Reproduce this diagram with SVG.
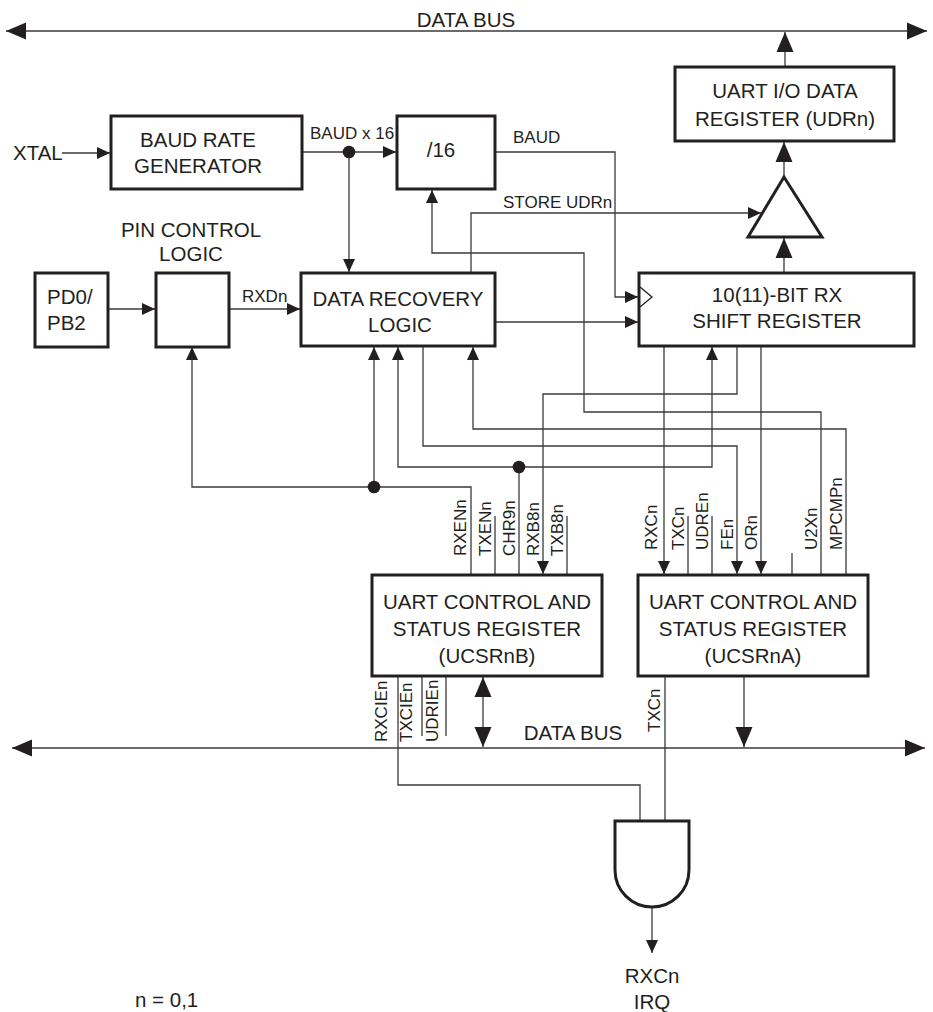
<svg xmlns="http://www.w3.org/2000/svg" width="933" height="1012" viewBox="0 0 933 1012">
<style>
text{font-family:"Liberation Sans",Arial,sans-serif;fill:#231f20}
.b{font-size:20.5px}
.s{font-size:17px}
.m{text-anchor:middle}
.box{fill:#fff;stroke:#231f20;stroke-width:3}
.w{fill:none;stroke:#3a3a3a;stroke-width:1.3}
.e{marker-end:url(#a)}
.E{marker-end:url(#A)}
.dot{fill:#231f20}
</style>
<defs>
<marker id="a" viewBox="-13 -6 14 12" refX="0" refY="0" markerWidth="14" markerHeight="12" orient="auto" markerUnits="userSpaceOnUse"><path d="M0,0 L-13,-6 L-13,6 Z" fill="#231f20"/></marker>
<marker id="A" viewBox="-20 -9 21 18" refX="0" refY="0" markerWidth="21" markerHeight="18" orient="auto-start-reverse" markerUnits="userSpaceOnUse"><path d="M0,0 L-20,-8.5 L-20,8.5 Z" fill="#231f20"/></marker>
</defs>

<g id="connectors">
<!-- buses -->
<path class="w" d="M6,31 H927" marker-start="url(#A)" marker-end="url(#A)"/>
<path class="w" d="M12,748 H925" marker-start="url(#A)" marker-end="url(#A)"/>
<!-- UDR to bus -->
<path class="w E" d="M785,67 V32"/>
<!-- buffer to UDR -->
<path class="w E" d="M784,177 V142"/>
<!-- shift reg to buffer -->
<path class="w E" d="M784,273 V238"/>
<!-- STORE UDRn -->
<path class="w e" d="M471,273 V213 H761"/>
<!-- XTAL -->
<path class="w e" d="M62,153 H110"/>
<!-- BAUD x 16 -->
<path class="w e" d="M302,152 H396"/>
<path class="w e" d="M349,152 V272"/>
<!-- BAUD -->
<path class="w e" d="M495,152 H615 V297 H638"/>
<!-- U2Xn to /16 -->
<path class="w e" d="M821,575 V412 H584 V253 H432 V190"/>
<!-- PD0 to pin control -->
<path class="w e" d="M108,309 H155"/>
<!-- RXDn -->
<path class="w e" d="M229,309 H300"/>
<!-- DRL to shift reg -->
<path class="w e" d="M495,322 H638"/>
<!-- RXENn -->
<path class="w e" d="M471,575 V487 H192 V347"/>
<path class="w e" d="M374,487 V347"/>
<!-- CHR9n -->
<path class="w" d="M519,575 V467"/>
<path class="w e" d="M519,467 H398 V347"/>
<path class="w e" d="M519,467 H712 V347"/>
<!-- DRL to FEn -->
<path class="w e" d="M423,346 V446 H737 V574"/>
<!-- MPCMPn to DRL -->
<path class="w e" d="M846,575 V429 H473 V347"/>
<!-- shift reg to RXB8n -->
<path class="w e" d="M737,346 V394 H543 V574"/>
<!-- RXCn, ORn -->
<path class="w e" d="M664,346 V574"/>
<path class="w e" d="M761,346 V574"/>
<!-- stubs -->
<path class="w" d="M495,516 V575 M567,516 V575 M688,516 V575 M712,516 V575 M792,553 V575"/>
<path class="w" d="M422,676 V736 M446,676 V736"/>
<!-- RXCIEn to AND -->
<path class="w" d="M398,676 V785 H640 V821"/>
<!-- TXCn to AND -->
<path class="w" d="M665,676 V821"/>
<!-- UCSRnB <-> bus -->
<path class="w" d="M483,677 V747" marker-start="url(#A)" marker-end="url(#A)"/>
<!-- UCSRnA to bus -->
<path class="w E" d="M744,676 V747"/>
<!-- AND output -->
<path class="w e" d="M652,907 V953"/>
<circle class="dot" cx="349" cy="152" r="6.3"/>
<circle class="dot" cx="374" cy="487" r="6.3"/>
<circle class="dot" cx="519" cy="467" r="6.3"/>
</g>

<g id="labels">
<text class="b m" x="466" y="27">DATA BUS</text>
<text class="b m" x="573" y="740">DATA BUS</text>
<text class="b" x="13" y="160">XTAL</text>
<text class="s" x="310" y="139">BAUD x 16</text>
<text class="s" x="513" y="143">BAUD</text>
<text class="s" x="503" y="208">STORE UDRn</text>
<text class="s" x="242" y="302">RXDn</text>
<text class="b m" x="191" y="237">PIN CONTROL</text>
<text class="b m" x="191" y="261">LOGIC</text>
<text class="b" x="135" y="1007">n = 0,1</text>
<text class="s" transform="translate(466,556) rotate(-90)">RXENn</text>
<text class="s" transform="translate(491,556) rotate(-90)">TXENn</text>
<text class="s" transform="translate(515,556) rotate(-90)">CHR9n</text>
<text class="s" transform="translate(539,556) rotate(-90)">RXB8n</text>
<text class="s" transform="translate(563,556) rotate(-90)">TXB8n</text>
<text class="s" transform="translate(657,550) rotate(-90)">RXCn</text>
<text class="s" transform="translate(684,550) rotate(-90)">TXCn</text>
<text class="s" transform="translate(708,550) rotate(-90)">UDREn</text>
<text class="s" transform="translate(733,550) rotate(-90)">FEn</text>
<text class="s" transform="translate(757,550) rotate(-90)">ORn</text>
<text class="s" transform="translate(817,550) rotate(-90)">U2Xn</text>
<text class="s" transform="translate(842,550) rotate(-90)">MPCMPn</text>
<text class="s" transform="translate(387,742) rotate(-90)">RXCIEn</text>
<text class="s" transform="translate(412,742) rotate(-90)">TXCIEn</text>
<text class="s" transform="translate(438,742) rotate(-90)">UDRIEn</text>
<text class="s" transform="translate(660,732) rotate(-90)">TXCn</text>
<text class="b m" x="652" y="983">RXCn</text>
<text class="b m" x="652" y="1009">IRQ</text>
</g>

<g id="udr">
<rect class="box" x="675" y="67" width="219" height="74"/>
<text class="b m" x="785" y="98">UART I/O DATA</text>
<text class="b m" x="785" y="126">REGISTER (UDRn)</text>
</g>
<g id="buffer">
<polygon class="box" points="784,177 748,237 822,237"/>
</g>
<g id="brg">
<rect class="box" x="111" y="116" width="191" height="73"/>
<text class="b m" x="198" y="147">BAUD RATE</text>
<text class="b m" x="198" y="173">GENERATOR</text>
</g>
<g id="div16">
<rect class="box" x="397" y="116" width="98" height="73"/>
<text class="b m" x="441" y="157">/16</text>
</g>
<g id="pd0">
<rect class="box" x="35" y="273" width="73" height="74"/>
<text class="b" x="47" y="304">PD0/</text>
<text class="b" x="47" y="330">PB2</text>
</g>
<g id="pincontrol">
<rect class="box" x="156" y="273" width="73" height="74"/>
</g>
<g id="drl">
<rect class="box" x="301" y="273" width="194" height="73"/>
<text class="b m" x="398" y="306">DATA RECOVERY</text>
<text class="b m" x="400" y="332">LOGIC</text>
</g>
<g id="shiftreg">
<rect class="box" x="639" y="273" width="275" height="73"/>
<path d="M640,287 L652,297 L640,307" fill="none" stroke="#231f20" stroke-width="1.3"/>
<text class="b m" x="777" y="302">10(11)-BIT RX</text>
<text class="b m" x="777" y="328">SHIFT REGISTER</text>
</g>
<g id="ucsrnb">
<rect class="box" x="372" y="575" width="230" height="101"/>
<text class="b m" x="487" y="609">UART CONTROL AND</text>
<text class="b m" x="487" y="636">STATUS REGISTER</text>
<text class="b m" x="487" y="663">(UCSRnB)</text>
</g>
<g id="ucsrna">
<rect class="box" x="638" y="575" width="230" height="101"/>
<text class="b m" x="753" y="609">UART CONTROL AND</text>
<text class="b m" x="753" y="636">STATUS REGISTER</text>
<text class="b m" x="753" y="663">(UCSRnA)</text>
</g>
<g id="andgate">
<path class="box" d="M615,821 H689 V870 A37,37 0 0 1 615,870 Z"/>
</g>
</svg>
